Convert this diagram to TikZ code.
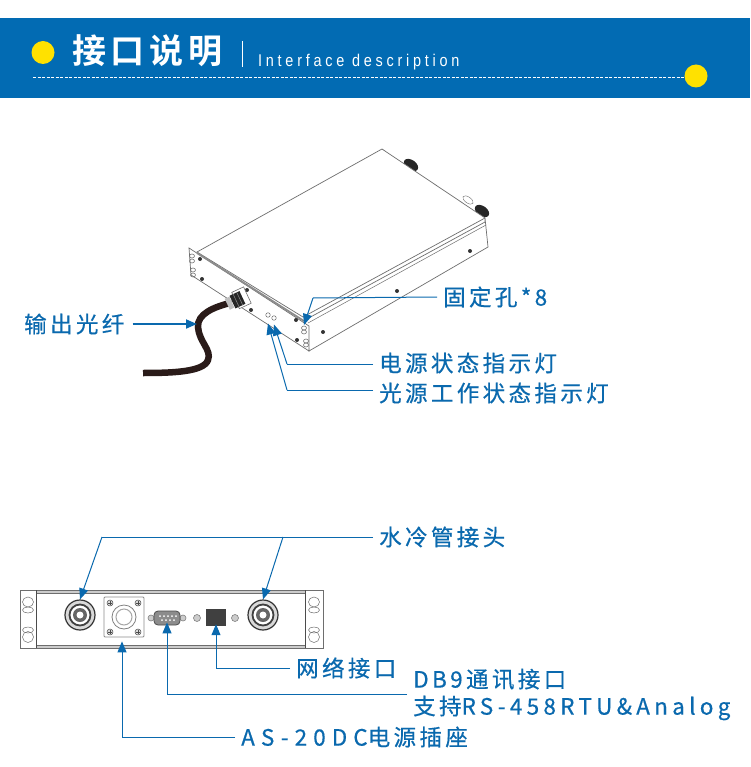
\documentclass[tikz,border=0pt]{standalone}
\usepackage{fontspec}
\usetikzlibrary{arrows.meta}
\newfontfamily\lblfont[LetterSpace=15,FakeBold=0.5]{Noto Sans CJK SC}
\newfontfamily\widefont[LetterSpace=27,FakeBold=0.5]{Noto Sans CJK SC}
\newfontfamily\rsfont[LetterSpace=19,FakeBold=0.5]{Noto Sans CJK SC}
\newfontfamily\titlefont[LetterSpace=14]{Noto Sans CJK SC Bold}
\newfontfamily\subfont[LetterSpace=22,FakeStretch=0.85]{Liberation Sans}
\definecolor{bannerblue}{HTML}{026BB3}
\definecolor{lblblue}{HTML}{0A69AE}
\definecolor{dotyellow}{HTML}{FFE100}
\definecolor{casegrey}{HTML}{6E6E6E}
\definecolor{cablebrown}{HTML}{2A1B19}
\tikzset{
    lbl/.style={
        font=\fontsize{22.5}{27}\selectfont\lblfont,
        text=lblblue,
        anchor=west,
        inner xsep=6pt,
        inner ysep=0pt,
        align=left
    },
    link/.style={
        draw=lblblue,
        line width=1pt,
        -{Triangle[length=11pt,width=9pt]}
    },
    plain/.style={draw=lblblue,line width=1pt},
    case/.style={draw=casegrey,line width=0.7pt,fill=white},
    hole/.style={fill=black!80,circle,inner sep=0pt,minimum size=4pt},
    dot/.style={fill=dotyellow,circle,inner sep=0pt,minimum size=23pt}
}

\begin{document}
\begin{tikzpicture}[x=1pt,y=-1pt]
    \useasboundingbox[fill=white] (0,0) rectangle (750,767);

    % Banner first.
    \fill[bannerblue] (0,18) rectangle (750,98);
    \draw[white,line width=0.6pt,dash pattern=on 3pt off 1.5pt] (33,77) -- (684,77);
    \draw[white,line width=0.6pt] (242,41) -- (242,67);
    \node[dot] (dotleft) at (43,52.5) {};
    \node[dot] (dotright) at (696,76) {};
    \node[anchor=west,inner sep=0pt,text=white,font=\fontsize{34}{34}\selectfont\titlefont] (title) at (72,51) {接口说明};
    \node[anchor=west,inner sep=0pt,text=white,font=\fontsize{17}{17}\selectfont\subfont] (subtitle) at (258,62) {Interface description};

    % Rear connectors of the box.
    \fill[black!85,rotate around={-35:(411,165)}] (411,165) ellipse (8 and 5);
    \fill[black!85,rotate around={-35:(482,211)}] (482,211) ellipse (8 and 5);
    \draw[casegrey,fill=white,rotate around={-35:(468,200)}] (468,200) ellipse (6 and 3);

    % Box: top, side and front plate.
    \draw[case] (197,252) -- (382,149) -- (485,218) -- (303,317) -- cycle;
    \draw[case] (305,320) -- (485,222) -- (485,218) -- (488,247) -- (309,351) -- cycle;
    \draw[casegrey,line width=0.5pt] (308,323) -- (486,225);
    \draw[case] (189,248) -- (309,326) -- (309,351) -- (191,275) -- cycle;
    \draw[black!45,line width=1.8pt] (197,253) -- (304,321);

    % Holes and slots.
    \foreach \hx/\hy in {200/259,202/279,247/290,251/310,296/320,297/340,323/332,397/291,470/251}
        \node[hole] at (\hx,\hy) {};
    \foreach \sx/\sy in {192/256,192/261,193/270,193/275,304/328,304/332,306/341,306/345}
        \draw[casegrey,line width=0.5pt] (\sx,\sy) ellipse (2.5 and 2);
    \node[circle,draw=casegrey,line width=0.5pt,inner sep=0pt,minimum size=4.5pt] (ledwork) at (268,315) {};
    \node[circle,draw=casegrey,line width=0.5pt,inner sep=0pt,minimum size=4.5pt] (ledpower) at (274,318) {};

    % Cable and gland.
    \draw[cablebrown,line width=6.5pt] (230,303) .. controls (214,307) and (197,314) .. (198,327)
        .. controls (199,342) and (212,350) .. (208,360) .. controls (204,372) and (172,373) .. (143,373);
    \draw[casegrey,line width=0.6pt,fill=white,rotate around={25:(241,298)}] (235,289) rectangle (248,307);
    \fill[black!85,rotate around={25:(237,300)}] (232,293) rectangle (243,307);
    \draw[black!45,line width=0.5pt,rotate around={25:(237,300)}] (236,293) -- (236,307) (240,293) -- (240,307);
    \fill[black!25,rotate around={25:(230,303)}] (227,297) rectangle (232,309);

    % Front panel of the rack box.
    \draw[casegrey,line width=1pt,fill=white] (20,590) rectangle (323,648);
    \fill[black!20] (36,590.5) rectangle (305,593);
    \fill[black!20] (36,645) rectangle (305,647.5);
    \draw[casegrey,line width=0.5pt] (36,593) -- (305,593);
    \draw[casegrey,line width=0.5pt] (36,645) -- (305,645);
    \draw[black!70,line width=1pt] (36,590) -- (36,648);
    \draw[black!70,line width=1pt] (305,590) -- (305,648);
    \foreach \ex in {28,314}
        \foreach \ey/\er in {602/5,610/3,630/3,637/5.5}
            \draw[casegrey,line width=0.5pt] (\ex,\ey) ellipse (5.5 and \er);

    % Water connectors.
    \foreach \wname/\wx in {waterleft/80,waterright/263} {
        \node[circle,draw=black!80,line width=1.2pt,fill=black!15,minimum size=30pt,inner sep=0pt] (\wname) at (\wx,615) {};
        \draw[black!75,line width=1.8pt,fill=white] (\wx,615) circle (10.5);
        \fill[black!60] (\wx,615) circle (7);
        \fill[white] (\wx,615) circle (3.5);
    }

    % Power socket.
    \node[draw=black!45,line width=0.8pt,rounded corners=1pt,fill=white,minimum size=40pt,inner sep=0pt] (socket) at (124,617) {};
    \draw[black!50,line width=0.8pt] (124,617) circle (12);
    \draw[black!35,line width=1pt] (124,617) circle (8);
    \foreach \px/\py in {110/603,138/603,110/632,138/632} {
        \draw[black!70,line width=0.5pt,fill=black!15] (\px,\py) circle (3);
        \draw[black!70,line width=0.4pt] (\px-2,\py) -- (\px+2,\py) (\px,\py-2) -- (\px,\py+2);
    }

    % DB9, network port, small screws.
    \foreach \gx/\gr in {151/3,183/3,197/3.5,235/3.5}
        \draw[black!50,line width=0.6pt,fill=black!20] (\gx,618) circle (\gr);
    \node[draw=black!70,line width=0.8pt,rounded corners=4pt,fill=black!45,minimum width=26pt,minimum height=14pt,inner sep=0pt] (dbnine) at (167,618) {};
    \foreach \dx in {160,164,168,172,176}
        \fill[white] (\dx,616) circle (1);
    \foreach \dx in {162,166,170,174}
        \fill[white] (\dx,620) circle (1);
    \node[fill=black!75,minimum width=20pt,minimum height=17pt,inner sep=0pt] (netport) at (216,617.5) {};

    % Labels.
    \node[lbl] (lblfiber) at (18,324) {输出光纤};
    \node[lbl] (lblhole) at (437,297) {固定孔*8};
    \node[lbl] (lblpower) at (373,363) {电源状态指示灯};
    \node[lbl] (lblwork) at (373,393) {光源工作状态指示灯};
    \node[lbl] (lblwater) at (373,537) {水冷管接头};
    \node[lbl] (lblnet) at (290,668) {网络接口};
    \node[lbl] (lbldb) at (407,694.5) {DB9通讯接口\\支持{\rsfont RS-458RTU\&Analog}};
    \node[lbl] (lblas) at (235,737) {{\widefont AS-20DC}电源插座};

    % Connector bends and free ends.
    \coordinate (fiberend) at (197,324);
    \coordinate (holebend) at (313,298);
    \coordinate (holeend) at (304,325);
    \coordinate (powerbend) at (287,364);
    \coordinate (workbend) at (287,390);
    \coordinate (waterbendl) at (102,537);
    \coordinate (waterbendr) at (283,537);

    % Connectors.
    \draw[link,line width=1.8pt] ([xshift=2pt]lblfiber.east) -- (fiberend);
    \draw[plain] (lblhole.west) -- (holebend);
    \draw[link] (holebend) -- (holeend);
    \draw[plain] (lblpower.west |- powerbend) -- (powerbend);
    \draw[link] (powerbend) -- ([shift={(0,4)}]ledpower.south);
    \draw[plain] (lblwork.west |- workbend) -- (workbend);
    \draw[link] (workbend) -- ([shift={(0,6)}]ledwork.south);
    \draw[plain] (lblwater.west) -- (waterbendl);
    \draw[link] (waterbendl) -- (waterleft.north);
    \draw[link] (waterbendr) -- (waterright.north);
    \draw[link] (lblnet.west) -| ([yshift=2pt]netport.south);
    \draw[link] (lbldb.west) -| ([yshift=3pt]dbnine.south);
    \draw[link] (lblas.west) -| ([shift={(-2,4)}]socket.south);

\end{tikzpicture}
\end{document}
